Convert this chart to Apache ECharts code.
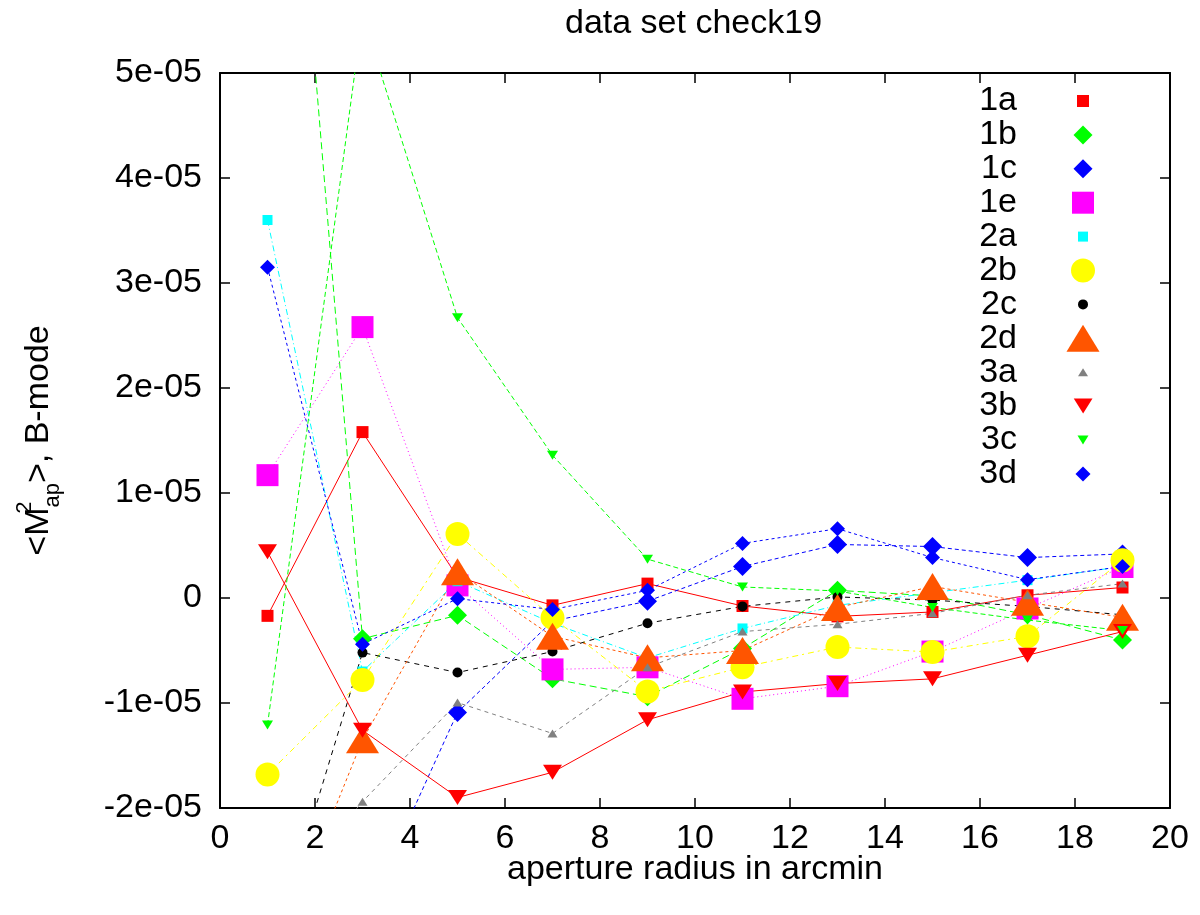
<!DOCTYPE html>
<html>
<head>
<meta charset="utf-8">
<title>data set check19</title>
<script src="https://cdn.jsdelivr.net/npm/echarts@6/dist/echarts.min.js"></script>
<style>
  html, body { margin: 0; padding: 0; background: #fff; }
  #chart { width: 1200px; height: 915px; }
</style>
</head>
<body>
<div id="chart"></div>
<script>
// aperture radius (arcmin)
var radius = [1, 3, 5, 7, 9, 11, 13, 15, 17, 19];

// <M_ap^2> B-mode, one array per data set
var s1a = [-1.7e-06, 1.58e-05, 2.0e-06, -0.7e-06, 1.37e-06, -0.76e-06, -1.75e-06, -1.33e-06, 0.26e-06, 1.0e-06];
var s1b = [1.05e-04, -3.87e-06, -1.65e-06, -7.7e-06, -9.4e-06, -4.8e-06, 0.73e-06, 0.2e-06, -1.6e-06, -4.0e-06];
var s1c = [-4.0e-05, -3.08e-05, -1.09e-05, -2.2e-06, -0.3e-06, 3.0e-06, 5.1e-06, 4.9e-06, 3.85e-06, 4.2e-06];
var s1e = [1.17e-05, 2.58e-05, 1.2e-06, -6.8e-06, -6.6e-06, -9.6e-06, -8.4e-06, -5.1e-06, -1.0e-06, 2.95e-06];
var s2a = [3.6e-05, -7.0e-06, 1.6e-06, -2.4e-06, -5.7e-06, -2.9e-06, -0.7e-06, 0.5e-06, 1.7e-06, 3.0e-06];
var s2b = [-1.68e-05, -7.8e-06, 6.1e-06, -1.87e-06, -8.9e-06, -6.6e-06, -4.67e-06, -5.15e-06, -3.65e-06, 3.6e-06];
var s2c = [-3.5e-05, -5.2e-06, -7.1e-06, -5.1e-06, -2.4e-06, -0.8e-06, 0.1e-06, -0.2e-06, -0.8e-06, -1.6e-06];
var s2d = [-3.6e-05, -1.35e-05, 2.5e-06, -3.65e-06, -5.7e-06, -5.0e-06, -0.9e-06, 1.1e-06, -0.4e-06, -1.84e-06];
var s3a = [-3.0e-05, -1.94e-05, -9.96e-06, -1.29e-05, -6.6e-06, -3.2e-06, -2.5e-06, -1.46e-06, 0.26e-06, 1.37e-06];
var s3b = [4.4e-06, -1.26e-05, -1.9e-05, -1.66e-05, -1.16e-05, -8.95e-06, -8.15e-06, -7.7e-06, -5.45e-06, -3.2e-06];
var s3c = [-1.21e-05, 5.55e-05, 2.67e-05, 1.36e-05, 3.7e-06, 1.05e-06, 0.67e-06, -0.9e-06, -2.1e-06, -3.1e-06];
var s3d = [3.15e-05, -4.4e-06, -0.06e-06, -1.1e-06, 0.73e-06, 5.2e-06, 6.6e-06, 3.85e-06, 1.75e-06, 3.0e-06];

var seriesNames = ['1a', '1b', '1c', '1e', '2a', '2b', '2c', '2d', '3a', '3b', '3c', '3d'];
var seriesValues = [s1a, s1b, s1c, s1e, s2a, s2b, s2c, s2d, s3a, s3b, s3c, s3d];

// tick labels
var xTickLabels = ['0', '2', '4', '6', '8', '10', '12', '14', '16', '18', '20'];
var yTickLabels = ['-2e-05', '-1e-05', '0', '1e-05', '2e-05', '3e-05', '4e-05', '5e-05'];

var FONT = '"Liberation Sans", Arial, sans-serif';
var FS = 34;
var downTri = 'path://M0,0L20,0L10,16Z';

// 每个数据集的样式
var looks = {
  '1a': { color: '#ff0000', symbol: 'rect', size: [12, 12], dash: 'solid' },
  '1b': { color: '#00ff00', symbol: 'diamond', size: [19, 19], dash: [7, 4] },
  '1c': { color: '#0000ff', symbol: 'diamond', size: [19, 19], dash: [4, 3] },
  '1e': { color: '#ff00ff', symbol: 'rect', size: [22, 22], dash: [1, 3] },
  '2a': { color: '#00ffff', symbol: 'rect', size: [10, 10], dash: [6, 3, 1, 3] },
  '2b': { color: '#ffff00', symbol: 'circle', size: [24, 24], dash: [6, 4, 2, 4] },
  '2c': { color: '#000000', symbol: 'circle', size: [10, 10], dash: [5, 5] },
  '2d': { color: '#ff5500', symbol: 'triangle', size: [33, 27], dash: [3, 3] },
  '3a': { color: '#808080', symbol: 'triangle', size: [10, 8], dash: [4, 4] },
  '3b': { color: '#ff0000', symbol: downTri, size: [19, 15], dash: 'solid' },
  '3c': { color: '#00ff00', symbol: downTri, size: [11, 9], dash: [5, 3] },
  '3d': { color: '#0000ff', symbol: 'diamond', size: [15, 15], dash: [3, 3] }
};

var myChart = echarts.init(document.getElementById('chart'));

var series = seriesNames.map(function (name, k) {
  var lk = looks[name];
  return {
    name: name,
    type: 'line',
    data: radius.map(function (r, i) { return [r, seriesValues[k][i]]; }),
    symbol: lk.symbol,
    symbolSize: lk.size,
    showAllSymbol: true,
    clip: true,
    itemStyle: { color: lk.color },
    lineStyle: { color: lk.color, width: 1, type: lk.dash },
    emphasis: { disabled: true }
  };
});

// 图例: one small legend per entry so each icon keeps its own size
var legends = seriesNames.map(function (name, i) {
  var lk = looks[name];
  var w = lk.size[0], h = lk.size[1];
  return {
    data: [{ name: name, icon: lk.symbol }],
    align: 'right',
    right: 117 - w / 2,
    top: 101 + i * 33.9 - 18,
    itemWidth: w,
    itemHeight: h,
    padding: 0,
    selectedMode: false,
    textStyle: {
      fontFamily: FONT, fontSize: FS, color: '#000', lineHeight: 36,
      padding: [0, 61 - w / 2, 0, 0]
    }
  };
});

var axisLine = { onZero: false, lineStyle: { color: '#000', width: 2 } };
var axisTick = { inside: true, length: 10, lineStyle: { color: '#000', width: 1.5 } };

var option = {
  animation: false,
  backgroundColor: '#fff',
  title: {
    text: 'data set check19',
    left: 560,
    top: 2,
    textStyle: { fontFamily: FONT, fontSize: FS, fontWeight: 'normal', color: '#000' }
  },
  legend: legends,
  grid: { left: 220, right: 30, top: 73, bottom: 107 },
  xAxis: [
    {
      type: 'value', position: 'bottom', min: 0, max: 20, interval: 2,
      axisLine: axisLine, axisTick: axisTick, splitLine: { show: false },
      axisLabel: {
        margin: 14, fontFamily: FONT, fontSize: FS, color: '#000',
        formatter: function (v) { return xTickLabels[Math.round(v / 2)]; }
      },
      name: 'aperture radius in arcmin',
      nameLocation: 'middle',
      nameGap: 45,
      nameMoveOverlap: false,
      nameTextStyle: { fontFamily: FONT, fontSize: FS, color: '#000' }
    },
    {
      type: 'value', position: 'top', min: 0, max: 20, interval: 2,
      axisLine: axisLine, axisTick: axisTick, splitLine: { show: false },
      axisLabel: { show: false }
    }
  ],
  yAxis: [
    {
      type: 'value', position: 'left', min: -2e-05, max: 5e-05, interval: 1e-05,
      axisLine: axisLine, axisTick: axisTick, splitLine: { show: false },
      axisLabel: {
        margin: 18, fontFamily: FONT, fontSize: FS, color: '#000',
        formatter: function (v) { return yTickLabels[Math.round((v + 2e-05) / 1e-05)]; }
      },
      name: '<M{sup|2}{sub|ap}>, B-mode',
      nameLocation: 'middle',
      nameRotate: 90,
      nameGap: 156,
      nameMoveOverlap: false,
      nameTextStyle: {
        fontFamily: FONT, fontSize: FS, color: '#000', lineHeight: 50,
        rich: {
          sup: { fontFamily: FONT, fontSize: 22, color: '#000', verticalAlign: 'top', width: 0, lineHeight: 22 },
          sub: { fontFamily: FONT, fontSize: 22, color: '#000', verticalAlign: 'bottom', lineHeight: 22 }
        }
      }
    },
    {
      type: 'value', position: 'right', min: -2e-05, max: 5e-05, interval: 1e-05,
      axisLine: axisLine, axisTick: axisTick, splitLine: { show: false },
      axisLabel: { show: false }
    }
  ],
  series: series
};

myChart.setOption(option);
window.addEventListener('resize', function () {
  myChart.resize();
});
</script>
</body>
</html>
